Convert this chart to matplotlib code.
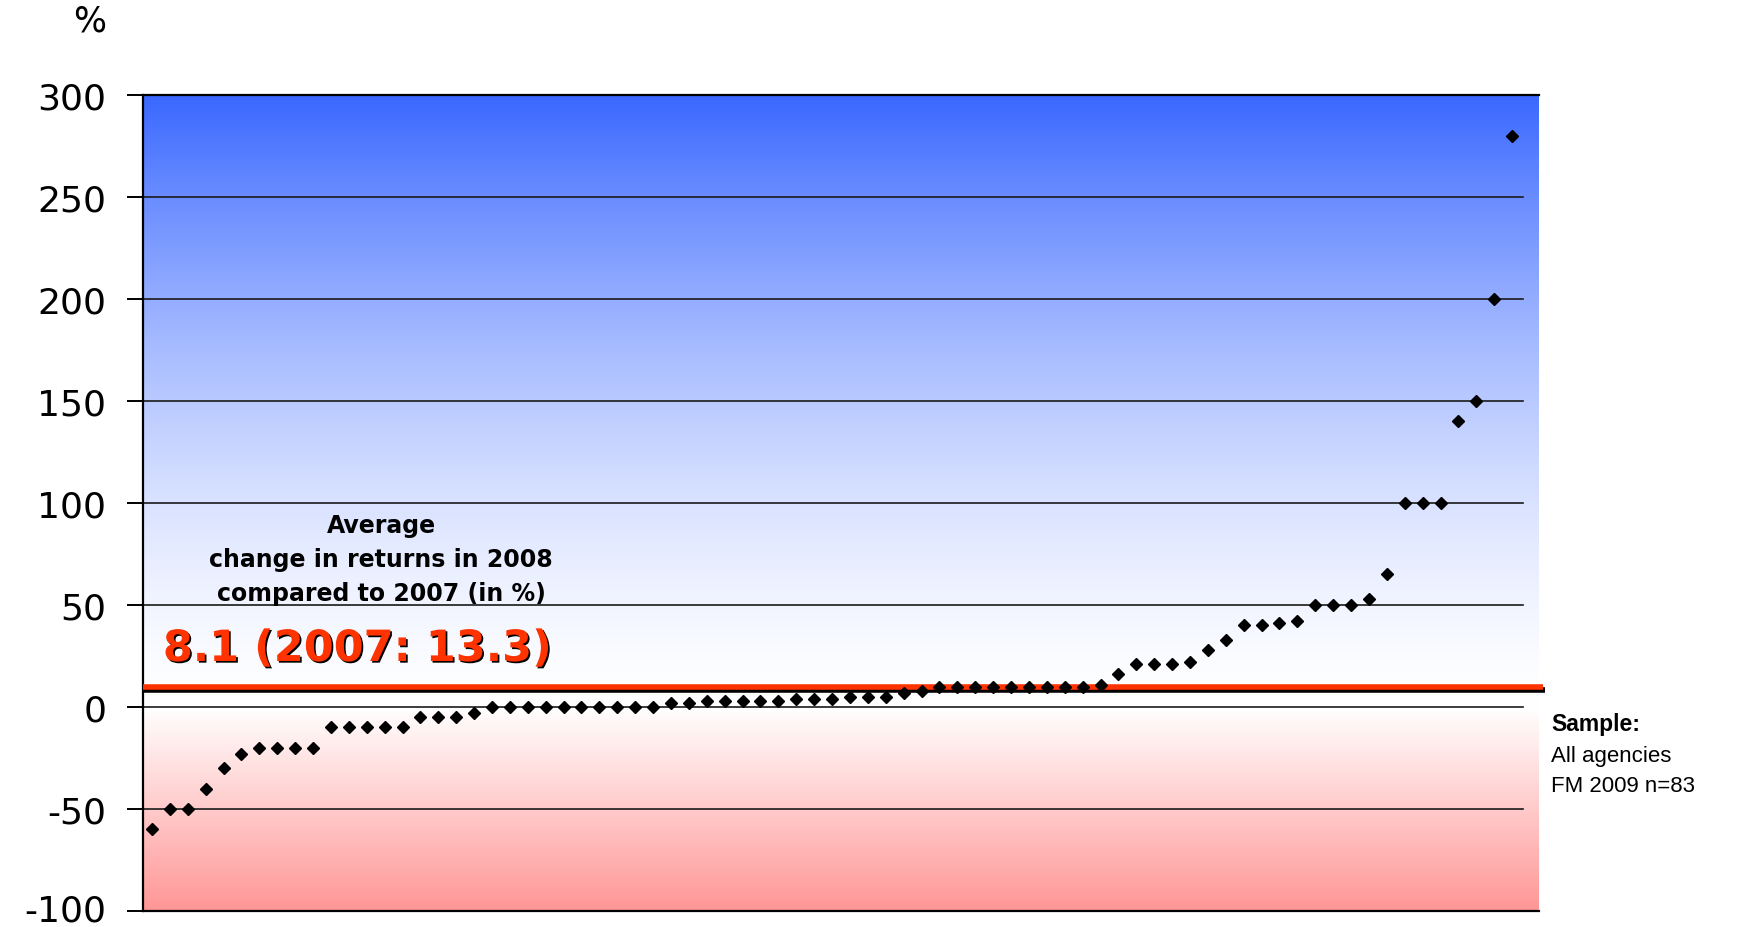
import numpy as np
import matplotlib
matplotlib.use("Agg")
import matplotlib.pyplot as plt
import matplotlib.patheffects as pe
import matplotlib.transforms as mtransforms

plt.rcParams['axes.unicode_minus'] = False

# ---- data ----
values = [-60, -50, -50, -40, -30, -23, -20, -20, -20, -20,
          -10, -10, -10, -10, -10, -5, -5, -5, -3,
          0, 0, 0, 0, 0, 0, 0, 0, 0, 0,
          2, 2, 3, 3, 3, 3, 3, 4, 4, 4, 5, 5, 5, 7, 8,
          10, 10, 10, 10, 10, 10, 10, 10, 10, 11,
          16, 21, 21, 21, 22, 28, 33, 40, 40, 41, 42,
          50, 50, 50, 53, 65, 100, 100, 100, 140, 150, 200, 280]
average_line = 10
yticks = [-100, -50, 0, 50, 100, 150, 200, 250, 300]
annot_text = "Average\nchange in returns in 2008\ncompared to 2007 (in %)"
avg_text = "8.1 (2007: 13.3)"
sample_title = "Sample:"
sample_lines = ["All agencies", "FM 2009 n=83"]

x = np.arange(1, len(values) + 1)

W, H = 1740, 928
fig = plt.figure(figsize=(W / 100, H / 100), dpi=100)
left, right, top, bottom = 143, 1539, 96, 912
ax = fig.add_axes([left / W, 1 - bottom / H, (right - left) / W, (bottom - top) / H])
ax.set_xlim(0.5, 78.5)
ax.set_ylim(-100, 300)

# background gradient
ys = np.linspace(300, -100, 800)
img = np.zeros((len(ys), 2, 3))
blue = np.array([58, 104, 255]) / 255
pink = np.array([255, 150, 150]) / 255
white = np.array([1.0, 1.0, 1.0])
for i, yv in enumerate(ys):
    if yv >= 0:
        t = (yv / 300) ** 1.5
        c = white + (blue - white) * t
    else:
        t = (-yv / 100)
        c = white + (pink - white) * t
    img[i, :, :] = c
ax.imshow(img, extent=(0.5, 78.5, -100, 300), aspect='auto', zorder=0,
          interpolation='bilinear')

# gridlines
gx = (1523 - left) / (right - left)
for yv in [-50, 0, 50, 100, 150, 200, 250]:
    ax.axhline(yv, xmin=0, xmax=gx, color='#1a1a1a', lw=1.2, zorder=1)

# spines
ax.spines['right'].set_visible(False)
for s in ['left', 'top', 'bottom']:
    ax.spines[s].set_linewidth(1.6)
    ax.spines[s].set_color('black')
ax.set_xticks([])
ax.set_yticks(yticks)
ax.set_yticklabels([str(v) for v in yticks], fontsize=26, family='DejaVu Sans')
ax.tick_params(axis='y', length=11.5, width=1.4, pad=15, color='black')
# nudge the bottom label up slightly so it stays inside the canvas
lbl = ax.get_yticklabels()[0]
lbl.set_transform(lbl.get_transform() + mtransforms.ScaledTranslation(0, 4 / 100, fig.dpi_scale_trans))

# average red line with shadow
ax.plot([0.5, 78.75], [average_line, average_line], color='#FF3300', lw=4,
        solid_capstyle='butt', zorder=3, clip_on=False,
        path_effects=[pe.SimpleLineShadow(offset=(0.8, -2.2), shadow_color='black', alpha=1.0),
                      pe.Normal()])

# points
ax.plot(x, values, linestyle='none', marker='D', markersize=6.5, color='black', zorder=4)

# texts
fig.text(90 / W, 1 - 22 / H, "%", fontsize=25, ha='center', va='center', family='DejaVu Sans')
fig.text(381 / W, 1 - 560 / H, annot_text, fontsize=17, fontweight='bold', ha='center',
         va='center', linespacing=1.5, family='DejaVu Sans')
fig.text(357 / W, 1 - 650 / H, avg_text, fontsize=31, fontweight='bold', ha='center',
         va='center', color='#FF3300', family='DejaVu Sans',
         path_effects=[pe.withSimplePatchShadow(offset=(1.2, -1.2), shadow_rgbFace='black', alpha=1.0)])
fig.text(1551 / W, 1 - 725 / H, sample_title, fontsize=16.5, fontweight='bold', ha='left',
         va='center', family='Liberation Sans')
for i, line in enumerate(sample_lines):
    fig.text(1551 / W, 1 - (757 + 30 * i) / H, line, fontsize=16, ha='left',
             va='center', family='Liberation Sans')

fig.savefig('out.png', dpi=100)
